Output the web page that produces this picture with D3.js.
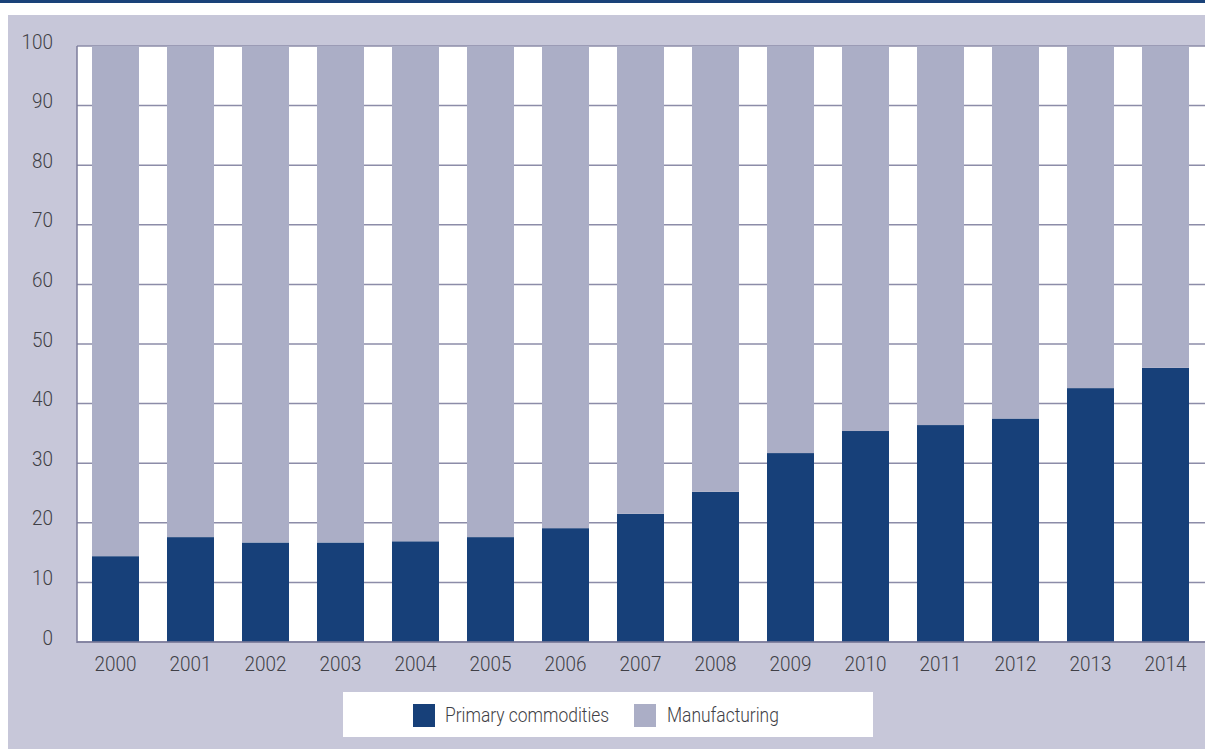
<!DOCTYPE html>
<html>
<head>
<meta charset="utf-8">
<script src="https://cdn.jsdelivr.net/npm/d3@7/dist/d3.min.js"></script>
<style>
  html, body { margin: 0; padding: 0; background: #ffffff; }
  svg { display: block; }
  text { font-family: "Roboto", "Liberation Sans", sans-serif; font-weight: 300; fill: #3f3f46; }
</style>
</head>
<body>
<svg id="chart" width="1205" height="749"></svg>
<script>
// Share of exports by product group, per cent
const years = ["2000","2001","2002","2003","2004","2005","2006","2007","2008","2009","2010","2011","2012","2013","2014"];
const primaryCommodities = [14.4, 17.6, 16.7, 16.7, 16.9, 17.6, 19.1, 21.5, 25.2, 31.7, 35.4, 36.4, 37.5, 42.6, 46.0];
const manufacturing = primaryCommodities.map(v => +(100 - v).toFixed(1));
const yTicks = [0, 10, 20, 30, 40, 50, 60, 70, 80, 90, 100];
const seriesNames = ["Primary commodities", "Manufacturing"];
const seriesColors = ["#174079", "#abaec6"];

const svg = d3.select("#chart");
const W = 1205, H = 749;

// Header rule and panel background
svg.append("rect").attr("x", 0).attr("y", 0).attr("width", W).attr("height", 3).attr("fill", "#1a4279");
svg.append("rect").attr("x", 8).attr("y", 15).attr("width", W - 8).attr("height", H - 15).attr("fill", "#c7c7d9");

const plot = { left: 77, right: 1204, top: 46, bottom: 642 };

const x = d3.scaleBand()
  .domain(years)
  .range([plot.left, plot.right])
  .paddingInner(28 / 75)
  .paddingOuter(0.2);

const y = d3.scaleLinear().domain([0, 100]).range([plot.bottom, plot.top]);

// Plot area
svg.append("rect")
  .attr("x", plot.left).attr("y", plot.top)
  .attr("width", plot.right - plot.left + 1).attr("height", plot.bottom - plot.top)
  .attr("fill", "#ffffff");

// Gridlines
svg.append("g")
  .selectAll("line")
  .data(yTicks)
  .join("line")
  .attr("x1", plot.left).attr("x2", plot.right + 1)
  .attr("y1", d => y(d)).attr("y2", d => y(d))
  .attr("stroke", "#8c8ca8").attr("stroke-width", 1.5);

// Stacked bars
const rows = years.map((yr, i) => ({ year: yr, primary: primaryCommodities[i], manufacturing: manufacturing[i] }));
const stack = d3.stack().keys(["primary", "manufacturing"]);
const layers = stack(rows);

svg.append("g")
  .selectAll("g")
  .data(layers)
  .join("g")
  .attr("fill", (d, i) => seriesColors[i])
  .selectAll("rect")
  .data(d => d)
  .join("rect")
  .attr("x", d => x(d.data.year))
  .attr("width", x.bandwidth())
  .attr("y", d => y(d[1]))
  .attr("height", d => y(d[0]) - y(d[1]));

// Axis lines
svg.append("line")
  .attr("x1", plot.left).attr("x2", plot.left)
  .attr("y1", plot.top).attr("y2", plot.bottom + 1)
  .attr("stroke", "#7d7d9b").attr("stroke-width", 1.5);
svg.append("line")
  .attr("x1", plot.left).attr("x2", plot.right + 1)
  .attr("y1", plot.bottom).attr("y2", plot.bottom)
  .attr("stroke", "#7d7d9b").attr("stroke-width", 1.5);

// Condensed look: squeeze glyphs horizontally around each label's anchor
const condense = (sel, k) => sel.each(function () {
  const t = d3.select(this);
  const ax = +t.attr("x") || 0;
  t.attr("transform", `translate(${ax},0) scale(${k},1) translate(${-ax},0)`);
});

// Y axis labels
const yAxis = d3.axisLeft(y).tickValues(yTicks).tickSize(0).tickPadding(24);
const gy = svg.append("g").attr("transform", `translate(${plot.left},0)`).call(yAxis);
gy.attr("font-family", null).attr("font-size", null);
gy.select(".domain").remove();
gy.selectAll("text").style("font-size", "21px").attr("fill", "#3f3f46").attr("dy", "0.1em").call(condense, 0.9);

// X axis labels
const xAxis = d3.axisBottom(x).tickSize(0).tickPadding(14);
const gx = svg.append("g").attr("transform", `translate(0,${plot.bottom})`).call(xAxis);
gx.attr("font-family", null).attr("font-size", null);
gx.select(".domain").remove();
gx.selectAll("text").style("font-size", "21px").attr("fill", "#3f3f46").call(condense, 0.9);

// Legend
const legend = svg.append("g");
legend.append("rect").attr("x", 343).attr("y", 692).attr("width", 530).attr("height", 45).attr("fill", "#ffffff");
const legendItems = [{ x: 413, tx: 445 }, { x: 634, tx: 667 }];
legendItems.forEach((it, i) => {
  legend.append("rect").attr("x", it.x).attr("y", 704).attr("width", 22).attr("height", 23).attr("fill", seriesColors[i]);
  legend.append("text").attr("x", it.tx).attr("y", 715).attr("dy", "0.35em")
    .style("font-size", "21px").attr("fill", "#3f3f46").text(seriesNames[i])
    .call(condense, 0.83);
});
</script>
</body>
</html>
